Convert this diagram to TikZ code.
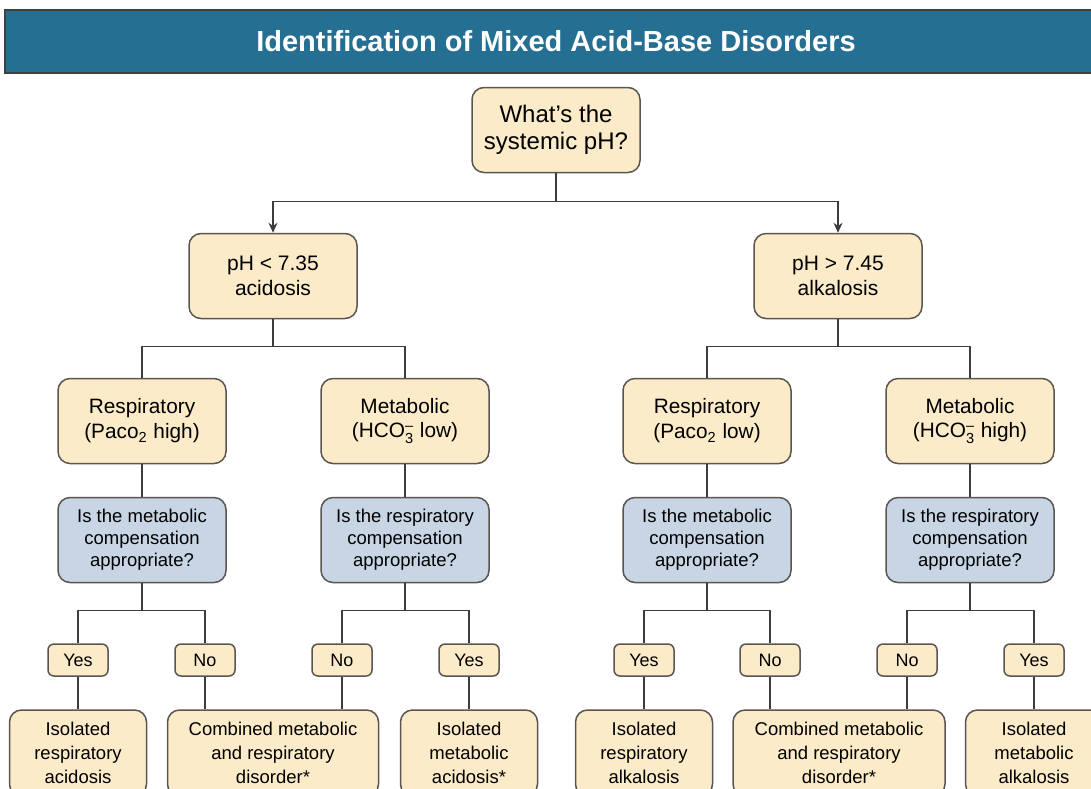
\documentclass[tikz,border=0pt]{standalone}
\usepackage{amsmath}
\usepackage{fontspec}
\setmainfont{Liberation Sans}
\usetikzlibrary{arrows.meta}

\definecolor{headblue}{HTML}{256F93}
\definecolor{boxcream}{HTML}{FCEBC8}
\definecolor{boxblue}{HTML}{C8D5E4}
\definecolor{edgegray}{HTML}{5A5550}
\definecolor{linegray}{HTML}{3C3C3C}

\begin{document}
\begin{tikzpicture}[x=0.5pt, y=0.5pt, >={Stealth[length=5pt,width=4.5pt]},
  box/.style={draw=edgegray, line width=0.75pt, rectangle, rounded corners=6pt, fill=boxcream, align=center, inner sep=0pt, minimum width=84pt, minimum height=42.5pt, font=\fontsize{10.4}{12.4}\selectfont},
  ask/.style={box, fill=boxblue, font=\fontsize{9.25}{11}\selectfont},
  tag/.style={box, rounded corners=3pt, minimum width=30pt, minimum height=16pt, font=\fontsize{9}{10}\selectfont},
  result/.style={box, minimum width=68.5pt, minimum height=43pt, font=\fontsize{9.25}{12}\selectfont},
  link/.style={draw=linegray, line width=0.65pt}]

\useasboundingbox (0,0) rectangle (1091,-788);

% Heading bar
\node[fill=headblue, draw=black!75, line width=1pt, minimum width=551pt, minimum height=31.5pt, text=white, font=\fontsize{14.5}{17}\selectfont\bfseries] (title) at (556,-41.5) {Identification of Mixed Acid-Base Disorders};

% Nodes
\node[box, font=\fontsize{12}{13.3}\selectfont] (qph) at (556,-130) {What’s the\\systemic pH?};

\node[box, font=\fontsize{10.5}{12.3}\selectfont] (acid) at (273,-276) {pH < 7.35\\acidosis};
\node[box, font=\fontsize{10.5}{12.3}\selectfont] (alk) at (838,-276) {pH > 7.45\\alkalosis};

\node[box] (racid) at (142,-421) {Respiratory\\(Paco\textsubscript{2} high)};
\node[box] (macid) at (405,-421) {Metabolic\\(HCO$_{\text{3}}^{\text{–}}$ low)};
\node[box] (ralk) at (707,-421) {Respiratory\\(Paco\textsubscript{2} low)};
\node[box] (malk) at (970,-421) {Metabolic\\(HCO$_{\text{3}}^{\text{–}}$ high)};

\node[ask] (cra) at (142,-540) {Is the metabolic\\compensation\\appropriate?};
\node[ask] (cma) at (405,-540) {Is the respiratory\\compensation\\appropriate?};
\node[ask] (crl) at (707,-540) {Is the metabolic\\compensation\\appropriate?};
\node[ask] (cml) at (970,-540) {Is the respiratory\\compensation\\appropriate?};

\node[tag] (ya) at (78,-660) {Yes};
\node[tag] (na) at (205,-660) {No};
\node[tag] (nb) at (342,-660) {No};
\node[tag] (yb) at (469,-660) {Yes};
\node[tag] (yc) at (644,-660) {Yes};
\node[tag] (nc) at (770,-660) {No};
\node[tag] (nd) at (907,-660) {No};
\node[tag] (yd) at (1034,-660) {Yes};

\node[result] (ira) at (78,-753) {Isolated\\respiratory\\acidosis};
\node[result, minimum width=105.5pt] (comba) at (273,-753) {Combined metabolic\\and respiratory\\disorder*};
\node[result] (ima) at (469,-753) {Isolated\\metabolic\\acidosis*};
\node[result] (irl) at (644,-753) {Isolated\\respiratory\\alkalosis};
\node[result, minimum width=106pt] (combb) at (839,-753) {Combined metabolic\\and respiratory\\disorder*};
\node[result] (iml) at (1034,-753) {Isolated\\metabolic\\alkalosis};

% Arrows
\draw[link, ->] (qph.south) -- ++(0,-28) -| (acid.north);
\draw[link, ->] (qph.south) -- ++(0,-28) -| (alk.north);

\draw[link] (acid.south) -- ++(0,-27.5) -| (racid.north);
\draw[link] (acid.south) -- ++(0,-27.5) -| (macid.north);
\draw[link] (alk.south) -- ++(0,-27.5) -| (ralk.north);
\draw[link] (alk.south) -- ++(0,-27.5) -| (malk.north);

\draw[link] (racid) -- (cra);
\draw[link] (macid) -- (cma);
\draw[link] (ralk) -- (crl);
\draw[link] (malk) -- (cml);

\draw[link] (cra.south) -- ++(0,-27.5) -| (ya.north);
\draw[link] (cra.south) -- ++(0,-27.5) -| (na.north);
\draw[link] (cma.south) -- ++(0,-27.5) -| (nb.north);
\draw[link] (cma.south) -- ++(0,-27.5) -| (yb.north);
\draw[link] (crl.south) -- ++(0,-27.5) -| (yc.north);
\draw[link] (crl.south) -- ++(0,-27.5) -| (nc.north);
\draw[link] (cml.south) -- ++(0,-27.5) -| (nd.north);
\draw[link] (cml.south) -- ++(0,-27.5) -| (yd.north);

\draw[link] (ya) -- (ira);
\draw[link] (na.south) -- (na.south |- comba.north); % both "No" join the combined box
\draw[link] (nb.south) -- (nb.south |- comba.north);
\draw[link] (yb) -- (ima);
\draw[link] (yc) -- (irl);
\draw[link] (nc.south) -- (nc.south |- combb.north);
\draw[link] (nd.south) -- (nd.south |- combb.north);
\draw[link] (yd) -- (iml);

\end{tikzpicture}
\end{document}
